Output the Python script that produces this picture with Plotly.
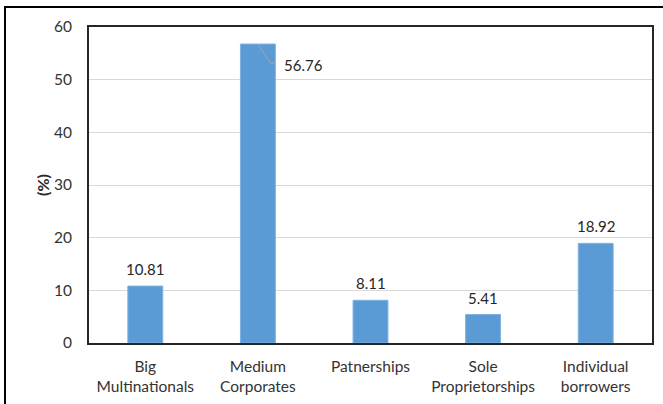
import plotly.graph_objects as go

categories = ["Big<br>Multinationals", "Medium<br>Corporates", "Patnerships",
              "Sole<br>Proprietorships", "Individual<br>borrowers"]
values = [10.81, 56.76, 8.11, 5.41, 18.92]
labels = ["10.81", "56.76", "8.11", "5.41", "18.92"]
y_ticks = [0, 10, 20, 30, 40, 50, 60]

W, H = 663, 404
ML, MR, MT, MB = 89, 11, 27, 61
PW, PH = W - ML - MR, H - MT - MB

FONT = "Lato, 'Open Sans', sans-serif"
TXT = "#333333"

fig = go.Figure()
fig.add_trace(go.Bar(
    x=categories, y=values,
    marker=dict(color="#5B9BD5", line=dict(color="#7FB2E0", width=1)),
    width=0.31, hoverinfo="skip",
))

ann = []
for i, (c, v, t) in enumerate(zip(categories, values, labels)):
    if i == 1:
        ann.append(dict(x=c, y=v, xref="x", yref="y", text=t, showarrow=False,
                        xanchor="left", yanchor="middle", xshift=24, yshift=-21,
                        font=dict(family=FONT, size=15, color="#262626")))
    else:
        ann.append(dict(x=c, y=v, xref="x", yref="y", text=t, showarrow=False,
                        xanchor="center", yanchor="bottom", yshift=6,
                        font=dict(family=FONT, size=15, color="#262626")))

# y-axis title
ann.append(dict(x=(42 - ML) / PW, y=0.5, xref="paper", yref="paper", text="<b>(%)</b>",
                textangle=-90, showarrow=False, xanchor="center", yanchor="middle",
                font=dict(family=FONT, size=16, color="#262626")))

shapes = []
# leader line for the 56.76 label
mi = 1
v = values[mi]
shapes.append(dict(type="path", xref="x", yref="y",
                   path=f"M {mi},{v} L {mi + 0.11},{v - 3.6} L {mi + 0.16},{v - 3.6}",
                   line=dict(color="#A6A6A6", width=1)))
# outer figure border
shapes.append(dict(type="rect", xref="paper", yref="paper",
                   x0=(5 - ML) / PW, x1=(666 - ML) / PW,
                   y0=(MT + PH - 408) / PH, y1=(MT + PH - 7) / PH,
                   line=dict(color="black", width=2), fillcolor="rgba(0,0,0,0)",
                   layer="above"))

fig.update_layout(
    width=W, height=H,
    margin=dict(l=ML, r=MR, t=MT, b=MB, pad=0, autoexpand=False),
    paper_bgcolor="white", plot_bgcolor="white",
    showlegend=False,
    annotations=ann, shapes=shapes,
    font=dict(family=FONT, size=14, color=TXT),
    xaxis=dict(showline=True, linecolor="#262626", linewidth=2, mirror=True,
               showgrid=False, ticks="", ticklabelstandoff=8, automargin=False,
               tickfont=dict(family=FONT, size=15.5, color=TXT), fixedrange=True),
    yaxis=dict(range=[0, 60], tickvals=y_ticks, showline=True, linecolor="#262626",
               linewidth=2, mirror=True, showgrid=True, gridcolor="#D9D9D9",
               gridwidth=1, ticks="", ticklabelstandoff=12, zeroline=False,
               automargin=False,
               tickfont=dict(family=FONT, size=15.5, color=TXT), fixedrange=True),
)

fig.write_html("out.html")
